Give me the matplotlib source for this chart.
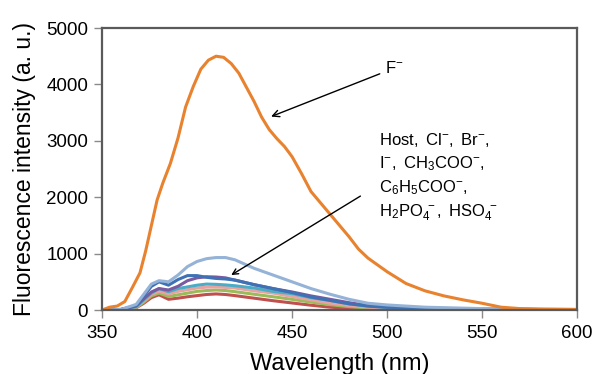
import matplotlib

matplotlib.use("Agg")
import matplotlib.pyplot as plt

plt.rcParams["font.family"] = ["Liberation Sans", "DejaVu Sans"]
plt.rcParams["mathtext.fontset"] = "custom"
plt.rcParams["mathtext.rm"] = "Liberation Sans"
plt.rcParams["mathtext.it"] = "Liberation Sans"

# F- spectrum
wl_f = [350, 354, 358, 362, 366, 370, 373, 376, 379, 382, 386, 390, 394, 398, 402, 406,
        410, 414, 418, 422, 426, 430, 434, 438, 442, 446, 450, 455, 460, 465, 470,
        475, 480, 485, 490, 500, 510, 520, 530, 540, 550, 560, 570, 580, 600]
int_f = [0, 50, 70, 150, 400, 660, 1050, 1500, 1950, 2250, 2600, 3050, 3600, 3960, 4270, 4430,
         4500, 4480, 4370, 4200, 3950, 3700, 3420, 3200, 3040, 2900, 2720, 2420, 2100, 1900, 1700,
         1500, 1300, 1080, 920, 680, 470, 340, 250, 180, 120, 50, 25, 15, 10]

# other anions + host
wl = [350, 360, 368, 372, 376, 380, 385, 390, 395, 400, 405, 410, 415, 420, 430,
      440, 450, 460, 470, 480, 490, 500, 520, 550, 600]
int_lightblue = [0, 10, 100, 280, 460, 520, 500, 620, 770, 860, 910, 930, 930, 890, 740,
                 620, 500, 380, 280, 190, 120, 90, 50, 25, 10]
int_blue = [0, 10, 80, 250, 420, 500, 440, 540, 610, 610, 580, 560, 550, 530, 450,
            380, 310, 230, 170, 110, 70, 50, 30, 15, 5]
int_purple = [0, 10, 70, 200, 320, 380, 355, 420, 520, 570, 590, 585, 570, 530, 450,
              380, 320, 250, 190, 130, 80, 55, 30, 15, 5]
int_teal = [0, 8, 60, 180, 300, 380, 325, 380, 410, 440, 460, 455, 445, 430, 390,
            330, 290, 220, 170, 110, 70, 45, 25, 12, 5]
int_pink = [0, 8, 55, 160, 280, 330, 285, 330, 360, 390, 405, 410, 400, 390, 340,
            300, 240, 180, 120, 80, 50, 35, 20, 10, 5]
int_green = [0, 6, 45, 140, 250, 300, 240, 270, 300, 330, 345, 355, 345, 325, 280,
             235, 190, 140, 95, 60, 35, 20, 12, 6, 3]
int_red = [0, 5, 40, 120, 220, 270, 190, 210, 235, 255, 275, 285, 275, 255, 210,
           165, 125, 85, 50, 30, 18, 10, 6, 4, 2]

others = [
    (int_red, "#C0504D"),
    (int_green, "#9BBB59"),
    (int_pink, "#E6A3A1"),
    (int_teal, "#4BACC6"),
    (int_purple, "#7A5AA0"),
    (int_blue, "#3F72B5"),
    (int_lightblue, "#95B3D7"),
]

fig = plt.figure(figsize=(5.92, 3.74), dpi=100)
ax = fig.add_axes([0.1723, 0.1711, 0.8024, 0.754])

for vals, col in others:
    ax.plot(wl, vals, color=col, lw=2.2, solid_joinstyle="round")
ax.plot(wl_f, int_f, color="#E8822E", lw=2.2, solid_joinstyle="round")

ax.set_xlim(350, 600)
ax.set_ylim(0, 5000)
ax.set_xticks([350, 400, 450, 500, 550, 600])
ax.set_yticks([0, 1000, 2000, 3000, 4000, 5000])
for s in ax.spines.values():
    s.set_color("#5A5A5A")
    s.set_linewidth(1.6)
ax.tick_params(direction="out", length=6, width=1, color="#8A8A8A",
               labelsize=13.5)
ax.tick_params(axis="x", pad=5)
ax.tick_params(axis="y", pad=4)
ax.set_xlabel("Wavelength (nm)", fontsize=17, labelpad=8)
ax.set_ylabel("Fluorescence intensity (a. u.)", fontsize=16.5, labelpad=7)

ax.annotate(r"$\mathregular{F^{-}}$", xy=(439, 3430), xytext=(499, 4290),
            fontsize=12, va="center", ha="left",
            arrowprops=dict(arrowstyle="->", color="black", lw=1, shrinkA=2, shrinkB=0))

label = (r"$\mathregular{Host,\ Cl^{-},\ Br^{-},}$" "\n"
         r"$\mathregular{I^{-},\ CH_{3}COO^{-},}$" "\n"
         r"$\mathregular{C_{6}H_{5}COO^{-},}$" "\n"
         r"$\mathregular{H_{2}PO_{4}^{\ -},\ HSO_{4}^{\ -}}$")
ax.text(496, 2360, label, fontsize=12, va="center", ha="left", linespacing=1.4)
ax.annotate("", xy=(418, 620), xytext=(486, 2020),
            arrowprops=dict(arrowstyle="->", color="black", lw=1, shrinkA=0, shrinkB=0))

fig.savefig("out.png", dpi=100)
